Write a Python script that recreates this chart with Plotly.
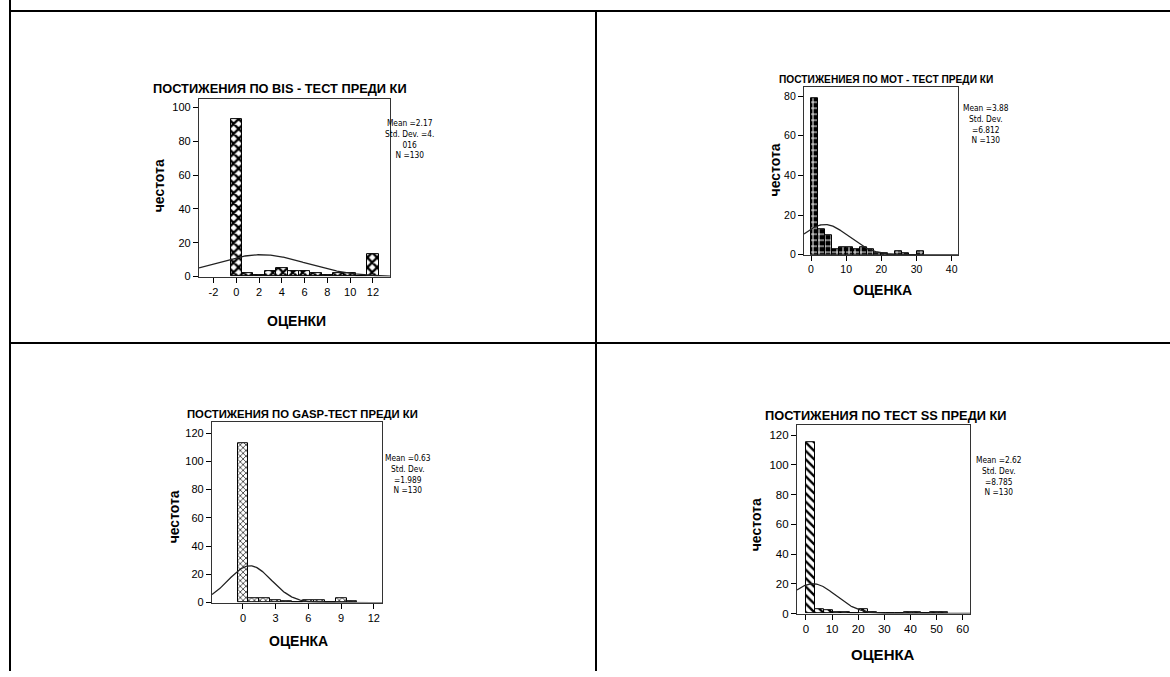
import numpy as np
import plotly.graph_objects as go

W, H = 1170, 677

# ---------------- data ----------------
BIS_TITLE = "ПОСТИЖЕНИЯ ПО BIS - ТЕСТ ПРЕДИ КИ"
BIS_SCORES = [0, 1, 2, 3, 4, 5, 6, 7, 8, 9, 10, 11, 12]
BIS_FREQ = [93, 2, 1, 3, 5, 3, 3, 2, 1, 2, 2, 0, 13]
BIS_BIN_W = 1
BIS_MEAN, BIS_SD, BIS_N = 2.17, 4.016, 130
BIS_STATS = ["Mean =2.17", "Std. Dev. =4.", "016", "N =130"]
BIS_XTICKS = [-2, 0, 2, 4, 6, 8, 10, 12]
BIS_XTICKTEXT = ["-2", "0", "2", "4", "6", "8", "10", "12"]
BIS_YTICKS = [0, 20, 40, 60, 80, 100]

MOT_TITLE = "ПОСТИЖЕНИЕЯ ПО МОТ - ТЕСТ ПРЕДИ КИ"
MOT_SCORES = [1, 3, 5, 7, 9, 11, 13, 15, 17, 19, 21, 23, 25, 27, 29, 31]
MOT_FREQ = [79, 13, 10, 3, 4, 4, 3, 4, 3, 1, 1, 0, 2, 1, 0, 2]
MOT_BIN_W = 2
MOT_MEAN, MOT_SD, MOT_N = 3.88, 6.812, 130
MOT_STATS = ["Mean =3.88", "Std. Dev.", "=6.812", "N =130"]
MOT_XTICKS = [0, 10, 20, 30, 40]
MOT_XTICKTEXT = ["0", "10", "20", "30", "40"]
MOT_YTICKS = [0, 20, 40, 60, 80]

GASP_TITLE = "ПОСТИЖЕНИЯ ПО GASP-ТЕСТ ПРЕДИ КИ"
GASP_SCORES = [0, 1, 2, 3, 4, 5, 6, 7, 8, 9, 10]
GASP_FREQ = [113, 3, 3, 2, 1, 0, 2, 2, 0, 3, 1]
GASP_BIN_W = 1
GASP_MEAN, GASP_SD, GASP_N = 0.63, 1.989, 130
GASP_STATS = ["Mean =0.63", "Std. Dev.", "=1.989", "N =130"]
GASP_XTICKS = [0, 3, 6, 9, 12]
GASP_XTICKTEXT = ["0", "3", "6", "9", "12"]
GASP_YTICKS = [0, 20, 40, 60, 80, 100, 120]

SS_TITLE = "ПОСТИЖЕНИЯ ПО ТЕСТ SS ПРЕДИ КИ"
SS_SCORES = [1.7, 5.1, 8.5, 11.9, 15.3, 18.7, 22.1, 25.5, 28.9, 32.3,
             35.7, 39.1, 42.5, 45.9, 49.3, 52.7]
SS_FREQ = [115, 3, 2, 1, 1, 0, 3, 1, 0, 0, 0, 1, 1, 0, 1, 1]
SS_BIN_W = 3.4
SS_MEAN, SS_SD, SS_N = 2.62, 8.785, 130
SS_STATS = ["Mean =2.62", "Std. Dev.", "=8.785", "N =130"]
SS_XTICKS = [0, 10, 20, 30, 40, 50, 60]
SS_XTICKTEXT = ["0", "10", "20", "30", "40", "50", "60"]
SS_YTICKS = [0, 20, 40, 60, 80, 100, 120]

Y_LABEL = "честота"
X_LABEL_1 = "ОЦЕНКИ"
X_LABEL = "ОЦЕНКА"

FONT = "Liberation Sans, Arial, sans-serif"
NARROW = "Liberation Sans Narrow, Arial Narrow, DejaVu Sans Condensed, Liberation Sans, sans-serif"


def px(x):
    return x / W


def py(y):
    return 1 - y / H


panels = [
    dict(title=BIS_TITLE, scores=BIS_SCORES, freq=BIS_FREQ, w=BIS_BIN_W,
         mean=BIS_MEAN, sd=BIS_SD, n=BIS_N, stats=BIS_STATS,
         xt=BIS_XTICKS, xtt=BIS_XTICKTEXT, yt=BIS_YTICKS, xlab=X_LABEL_1,
         box=(199, 390, 100, 279), xr=(-3.27, 13.5), yr=(0, 105),
         pattern=dict(shape="x", fgcolor="black", bgcolor="white", size=7, solidity=0.55),
         title_xy=(280, 89, 12.8), stats_xy=(409, 117),
         ylab_xy=(159, 188, 14), xlab_xy=(296, 324, 14), tickfs=11),
    dict(title=MOT_TITLE, scores=MOT_SCORES, freq=MOT_FREQ, w=MOT_BIN_W,
         mean=MOT_MEAN, sd=MOT_SD, n=MOT_N, stats=MOT_STATS,
         xt=MOT_XTICKS, xtt=MOT_XTICKTEXT, yt=MOT_YTICKS, xlab=X_LABEL,
         box=(804, 958, 88, 257), xr=(-2.0, 41.8), yr=(0, 84.5),
         pattern=dict(shape="+", fgcolor="white", bgcolor="black", size=6, solidity=0.3),
         title_xy=(886, 80, 10.2), stats_xy=(986, 102),
         ylab_xy=(775, 172, 14), xlab_xy=(882, 293, 14), tickfs=10.5),
    dict(title=GASP_TITLE, scores=GASP_SCORES, freq=GASP_FREQ, w=GASP_BIN_W,
         mean=GASP_MEAN, sd=GASP_SD, n=GASP_N, stats=GASP_STATS,
         xt=GASP_XTICKS, xtt=GASP_XTICKTEXT, yt=GASP_YTICKS, xlab=X_LABEL,
         box=(212, 382, 426, 608), xr=(-2.84, 12.75), yr=(0, 127.7),
         pattern=dict(shape="x", fgcolor="black", bgcolor="white", size=4, solidity=0.3),
         title_xy=(302, 418, 11.3), stats_xy=(408, 455),
         ylab_xy=(174, 522, 14), xlab_xy=(298, 647, 14), tickfs=11),
    dict(title=SS_TITLE, scores=SS_SCORES, freq=SS_FREQ, w=SS_BIN_W,
         mean=SS_MEAN, sd=SS_SD, n=SS_N, stats=SS_STATS,
         xt=SS_XTICKS, xtt=SS_XTICKTEXT, yt=SS_YTICKS, xlab=X_LABEL,
         box=(797, 970, 429, 619), xr=(-3.4, 62.8), yr=(0, 126.7),
         pattern=dict(shape="\\", fgcolor="black", bgcolor="white", size=6, solidity=0.4),
         title_xy=(886, 419, 12.8), stats_xy=(999, 457),
         ylab_xy=(756, 530, 14), xlab_xy=(883, 660, 15), tickfs=11.5),
]

fig = go.Figure()
annotations = []
layout_axes = {}

for i, p in enumerate(panels, start=1):
    xa = "x" if i == 1 else f"x{i}"
    ya = "y" if i == 1 else f"y{i}"
    fig.add_trace(go.Bar(
        x=p["scores"], y=p["freq"], width=p["w"],
        marker=dict(color="white", line=dict(color="black", width=1),
                    pattern=dict(fillmode="replace", **p["pattern"])),
        xaxis=xa, yaxis=ya, showlegend=False, hoverinfo="x+y"))
    xs = np.linspace(p["xr"][0], p["xr"][1], 300)
    ys = p["n"] * p["w"] / (p["sd"] * np.sqrt(2 * np.pi)) * np.exp(-0.5 * ((xs - p["mean"]) / p["sd"]) ** 2)
    fig.add_trace(go.Scatter(x=xs, y=ys, mode="lines",
                             line=dict(color="#222", width=1.3),
                             xaxis=xa, yaxis=ya, showlegend=False, hoverinfo="skip"))
    x0, x1, y0, y1 = p["box"]
    axis_common = dict(showgrid=False, zeroline=False, showline=True, mirror=True,
                       linecolor="#333", linewidth=1.2, ticks="outside", ticklen=5,
                       tickcolor="black", tickfont=dict(family=FONT, size=p["tickfs"], color="black"),
                       fixedrange=True)
    layout_axes["xaxis" if i == 1 else f"xaxis{i}"] = dict(
        domain=[px(x0), px(x1)], range=list(p["xr"]), tickmode="array",
        tickvals=p["xt"], ticktext=p["xtt"], anchor=ya, **axis_common)
    layout_axes["yaxis" if i == 1 else f"yaxis{i}"] = dict(
        domain=[py(y1), py(y0)], range=list(p["yr"]), tickmode="array", tickvals=p["yt"],
        anchor=xa, **axis_common)

    tx, ty, tfs = p["title_xy"]
    annotations.append(dict(x=px(tx), y=py(ty), xref="paper", yref="paper", text=f"<b>{p['title']}</b>",
                            showarrow=False, xanchor="center", yanchor="middle",
                            font=dict(family=FONT, size=tfs, color="black")))
    sx, sy = p["stats_xy"]
    annotations.append(dict(x=px(sx), y=py(sy), xref="paper", yref="paper",
                            text="<br>".join(p["stats"]),
                            showarrow=False, xanchor="center", yanchor="top", align="center",
                            font=dict(family=NARROW, size=8.3, color="black")))
    lx, ly, lfs = p["ylab_xy"]
    annotations.append(dict(x=px(lx), y=py(ly), xref="paper", yref="paper", text=f"<b>{Y_LABEL}</b>",
                            showarrow=False, textangle=-90, xanchor="center", yanchor="middle",
                            font=dict(family=FONT, size=lfs, color="black")))
    bx, by, bfs = p["xlab_xy"]
    annotations.append(dict(x=px(bx), y=py(by), xref="paper", yref="paper", text=f"<b>{p['xlab']}</b>",
                            showarrow=False, xanchor="center", yanchor="middle",
                            font=dict(family=FONT, size=bfs, color="black")))

# table borders
line = dict(color="black", width=2)
shapes = [
    dict(type="line", xref="paper", yref="paper", x0=px(10), x1=px(10), y0=py(0), y1=py(677), line=line),
    dict(type="line", xref="paper", yref="paper", x0=px(10), x1=px(1170), y0=py(11), y1=py(11), line=line),
    dict(type="line", xref="paper", yref="paper", x0=px(596), x1=px(596), y0=py(11), y1=py(677), line=line),
    dict(type="line", xref="paper", yref="paper", x0=px(10), x1=px(1170), y0=py(346), y1=py(346), line=line),
]

fig.update_layout(
    width=W, height=H, margin=dict(l=0, r=0, t=0, b=0),
    paper_bgcolor="white", plot_bgcolor="white",
    bargap=0, showlegend=False,
    annotations=annotations, shapes=shapes,
    **layout_axes,
)

fig.write_html("out.html")
